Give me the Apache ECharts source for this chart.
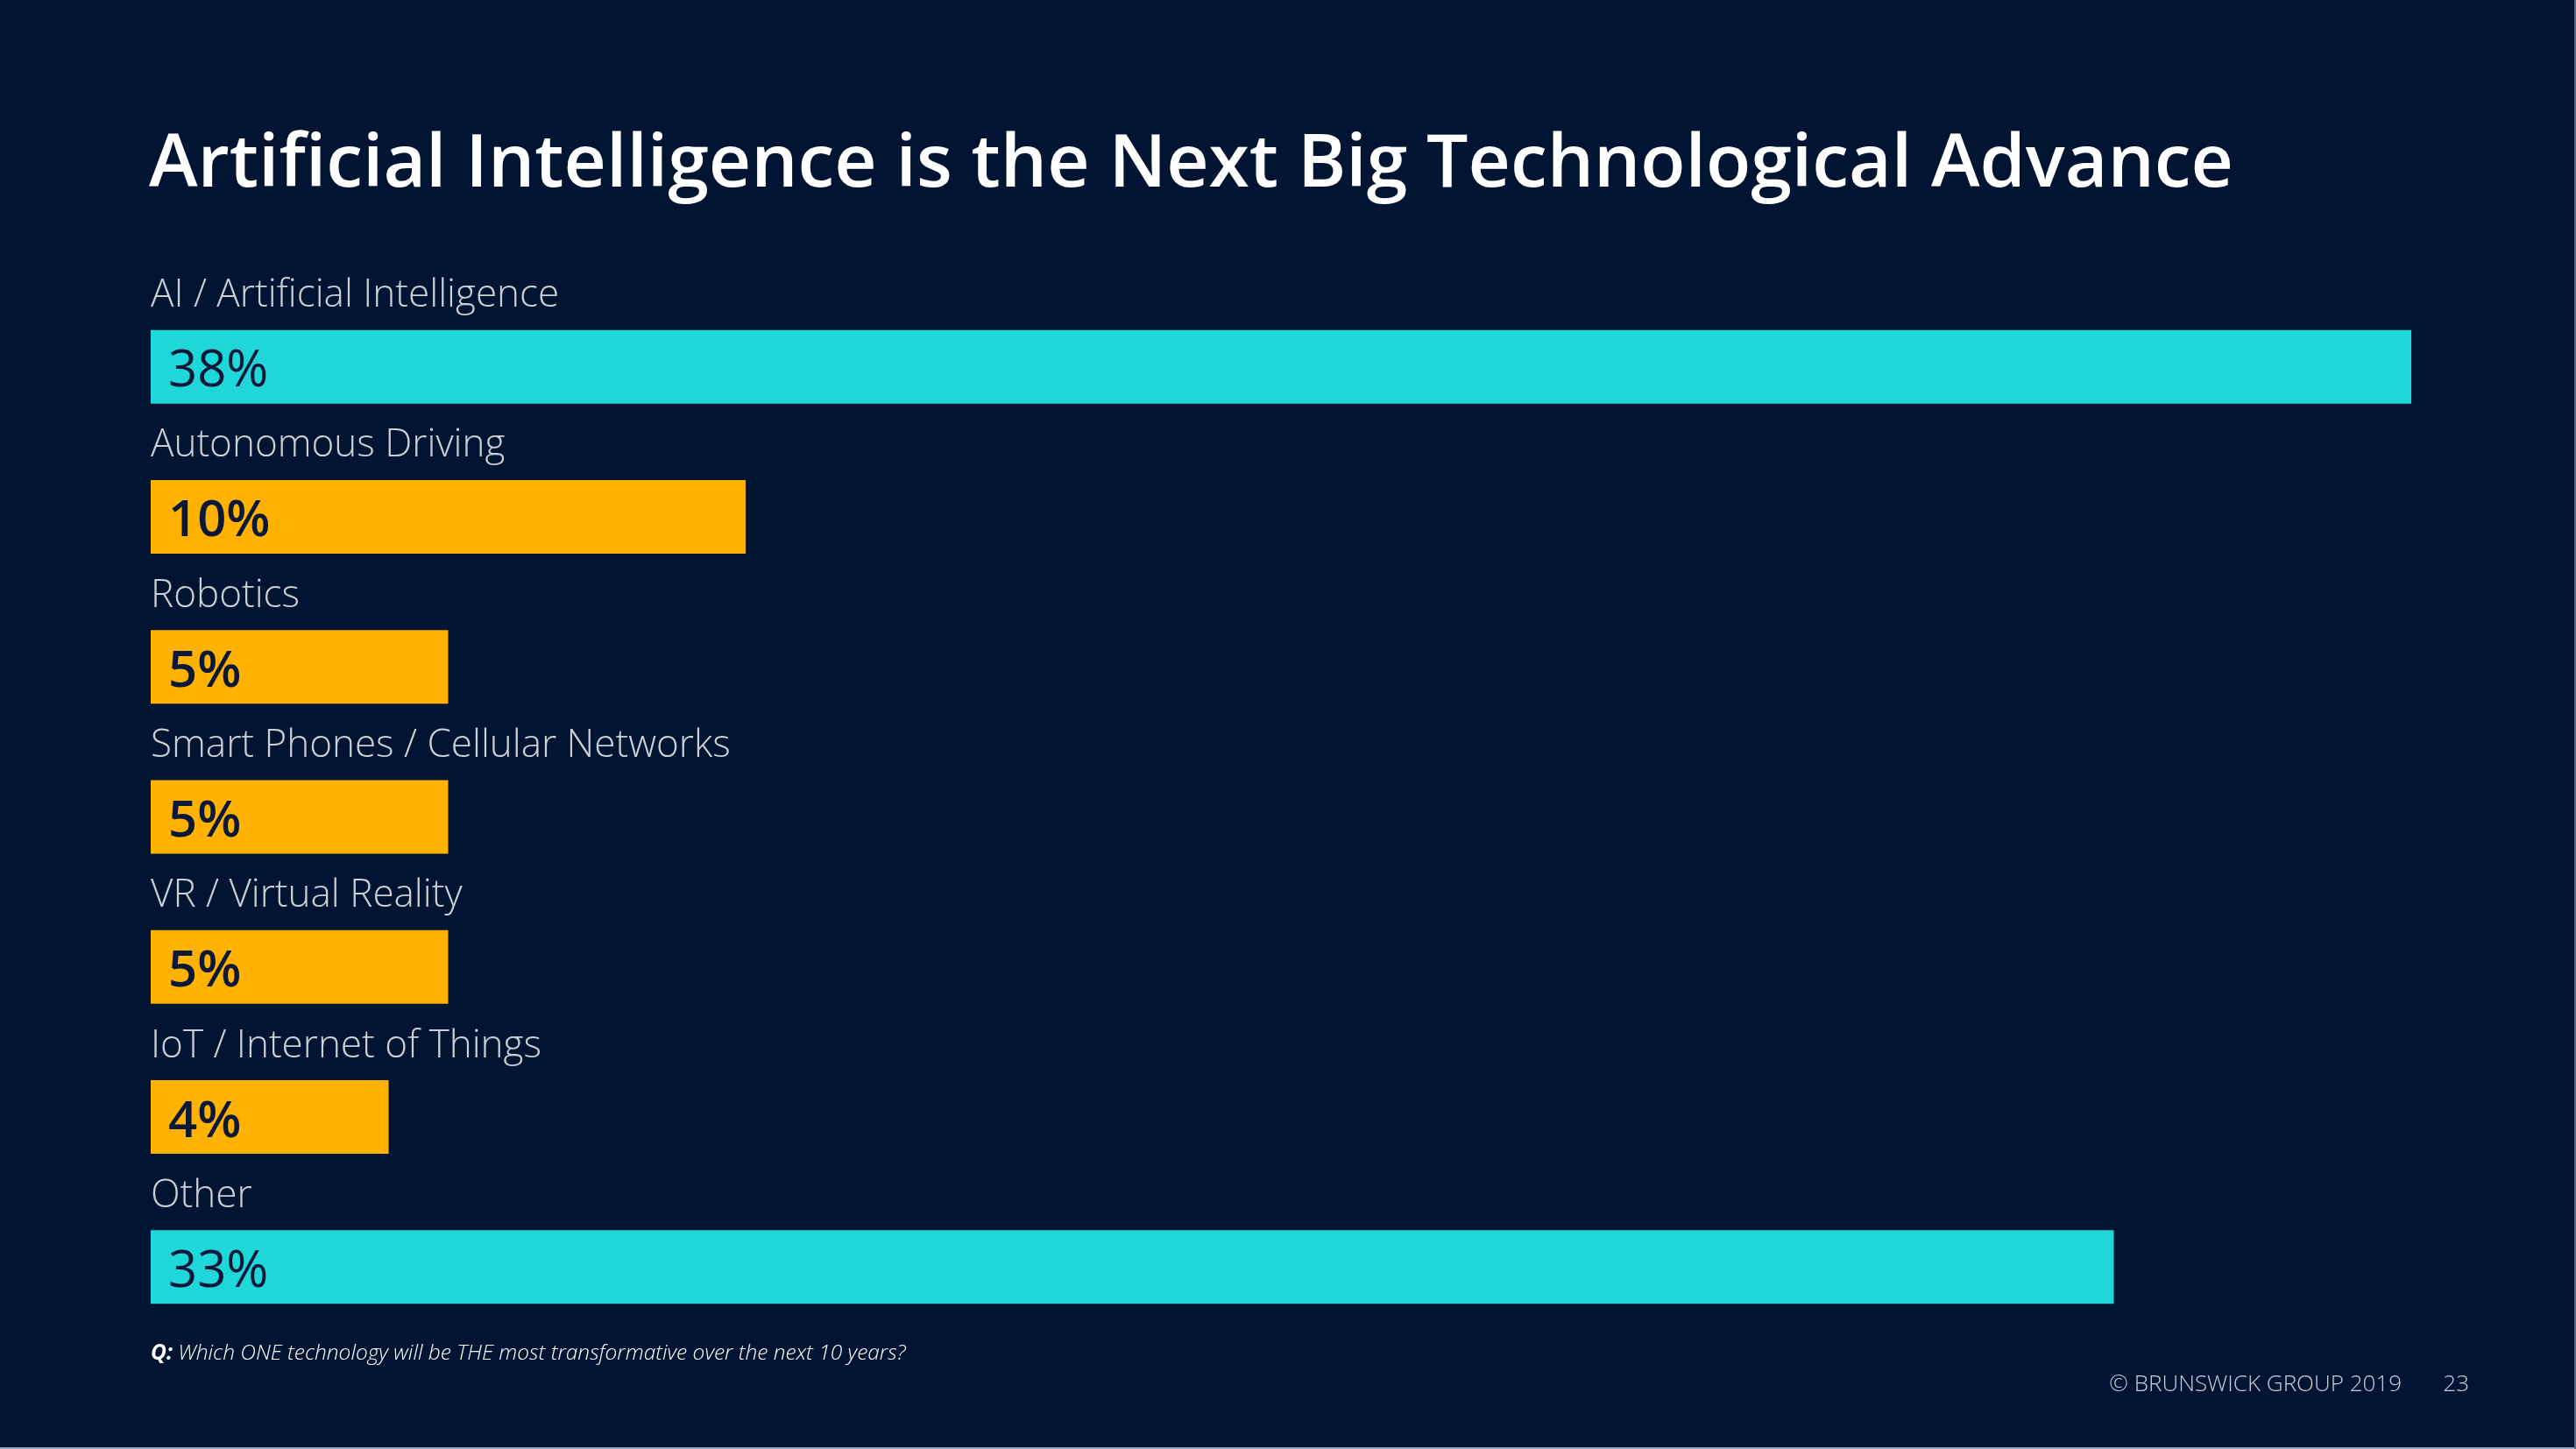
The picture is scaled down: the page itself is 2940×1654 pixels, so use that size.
<!DOCTYPE html>
<html>
<head>
<meta charset="utf-8">
<script src="https://cdn.jsdelivr.net/npm/echarts@6/dist/echarts.min.js"></script>
<style>
html,body{margin:0;padding:0;background:#011432;}
#chart{width:2940px;height:1654px;}
</style>
</head>
<body>
<div id="chart"></div>
<script>
const categories = ["AI / Artificial Intelligence","Autonomous Driving","Robotics","Smart Phones / Cellular Networks","VR / Virtual Reality","IoT / Internet of Things","Other"];
const values = [38, 10, 5, 5, 5, 4, 33];
const barColors = ["#1fd7d9","#ffb300","#ffb300","#ffb300","#ffb300","#ffb300","#1fd7d9"];
const titleText = "Artificial Intelligence is the Next Big Technological Advance";
const questionText = "Which ONE technology will be THE most transformative over the next 10 years?";
const footerText = "© BRUNSWICK GROUP 2019";
const pageNumber = "23";

const chart = echarts.init(document.getElementById('chart'));
const F = "'Open Sans', 'Noto Sans', sans-serif";
chart.setOption({
  backgroundColor: '#011432',
  animation: false,
  grid: {left: 172, right: 188, top: 333, bottom: 122},
  xAxis: {type: 'value', min: 0, max: 38, show: false},
  yAxis: {
    type: 'category', data: categories, inverse: true,
    axisLine: {show: false}, axisTick: {show: false}, splitLine: {show: false},
    axisLabel: {show: false}
  },
  series: [{
    type: 'bar', barWidth: 84,
    data: values.map((v, i) => ({
      value: v,
      itemStyle: {color: barColors[i]},
      label: {fontWeight: barColors[i] === '#ffb300' ? 600 : 400}
    })),
    label: {
      show: true, position: 'insideLeft', distance: 20, offset: [0, 6],
      formatter: p => p.value + '%',
      color: '#0b1838', fontFamily: F, fontSize: 58
    }
  }, {
    type: 'scatter', symbolSize: 0, silent: true,
    data: categories.map(c => [0, c]),
    label: {
      show: true, position: 'right', distance: 0, offset: [0, -81],
      formatter: p => p.value[1],
      color: '#ffffff', fontFamily: F, fontWeight: 300, fontSize: 44
    }
  }],
  graphic: [
    {type: 'text', left: 170, top: 147, style: {text: titleText, fill: '#ffffff', font: "600 84px " + F}},
    {type: 'text', x: 172, y: 1545, style: {
      text: '{q|Q:} ' + questionText, verticalAlign: 'middle',
      rich: {q: {fill: '#ffffff', font: "italic 700 24.5px " + F}},
      fill: '#ffffff', font: "italic 300 24.5px " + F}},
    {type: 'text', x: 2741, y: 1581, style: {text: footerText, align: 'right', verticalAlign: 'middle', fill: '#c9ced6', font: "300 26px " + F}},
    {type: 'text', x: 2818, y: 1581, style: {text: pageNumber, align: 'right', verticalAlign: 'middle', fill: '#c9ced6', font: "300 26px " + F}},
    {type: 'rect', shape: {x: 0, y: 1652, width: 2940, height: 2}, style: {fill: '#9aa6bb'}, silent: true},
    {type: 'rect', shape: {x: 2938, y: 0, width: 2, height: 1654}, style: {fill: '#5d6a84'}, silent: true}
  ]
});
</script>
</body>
</html>
